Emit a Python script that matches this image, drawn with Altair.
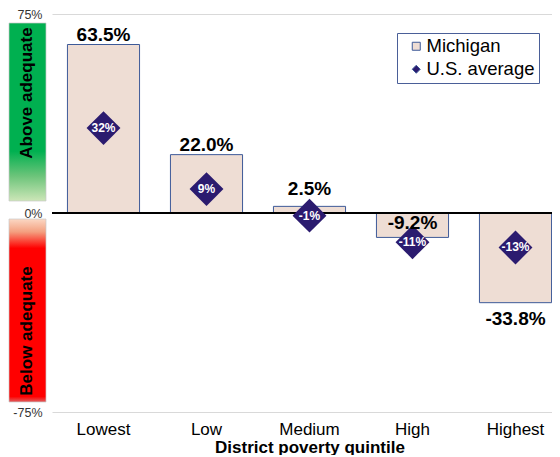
import altair as alt
import pandas as pd

quintiles = ["Lowest", "Low", "Medium", "High", "Highest"]
michigan = [63.5, 22.0, 2.5, -9.2, -33.8]
us_avg = [32, 9, -1, -11, -13]
y_ticks = [-75, 0, 75]
series_names = ["Michigan", "U.S. average"]
zone_labels = ["Above adequate", "Below adequate"]

df = pd.DataFrame({"quintile": quintiles, "mi": michigan, "us": us_avg})

FONT = "Liberation Sans"
BAR_FILL = "#EEDDD4"
BAR_STROKE = "#3D5A98"
DIAMOND = "#2B1B6F"

base = alt.Chart(df)

x_enc = alt.X(
    "quintile:N",
    sort=quintiles,
    scale=alt.Scale(paddingInner=0.3, paddingOuter=0.15, range=[0, 515]),
    axis=alt.Axis(
        title="District poverty quintile", labelAngle=0, domain=False, ticks=False,
        labelPadding=9, labelFontSize=17, labelColor="black", labelFont=FONT,
        titleFontSize=17, titleFontWeight="bold", titlePadding=2, titleFont=FONT,
        titleColor="black",
    ),
)
y_scale = alt.Scale(domain=[-75, 75], nice=False)
y_axis = alt.Axis(
    values=y_ticks, labelExpr="datum.value + '%'", grid=True, gridColor="#D9D9D9",
    domain=False, ticks=False, labelPadding=10, labelFontSize=12.5, labelColor="#333333",
    labelFont=FONT, title=None,
)

color_scale = alt.Scale(domain=series_names, range=[BAR_FILL, DIAMOND])
shape_scale = alt.Scale(domain=series_names, range=["square", "diamond"])
legend = alt.Legend(
    title=None, orient="none", legendX=345, legendY=19, fillColor="white",
    strokeColor="#4A5F98", padding=4, symbolOffset=6, labelFontSize=18.5,
    labelFont=FONT, labelColor="black", rowPadding=4, symbolSize=64,
    symbolStrokeColor=BAR_STROKE, symbolStrokeWidth=1, labelOffset=1,
)

bars = base.transform_calculate(series="'Michigan'").mark_bar(
    stroke=BAR_STROKE, strokeWidth=1
).encode(
    x=x_enc,
    y=alt.Y("mi:Q", scale=y_scale, axis=y_axis),
    color=alt.Color("series:N", scale=color_scale, legend=legend),
)

zero = alt.Chart(pd.DataFrame({"z": [0]})).mark_rule(color="black", strokeWidth=2).encode(
    y=alt.Y("z:Q", scale=y_scale, axis=y_axis)
)

pts = base.transform_calculate(series="'U.S. average'").mark_point(
    filled=True, size=1150, opacity=1
).encode(
    x=x_enc,
    y=alt.Y("us:Q", scale=y_scale, axis=y_axis),
    color=alt.Color("series:N", scale=color_scale, legend=legend),
    shape=alt.Shape("series:N", scale=shape_scale, legend=legend),
)

pt_labels = base.transform_calculate(
    lbl="(datum.us < 0 ? '-' : '') + format(abs(datum.us), 'd') + '%'"
).mark_text(
    color="white", fontSize=12, fontWeight="bold", font=FONT
).encode(
    x=x_enc, y=alt.Y("us:Q", scale=y_scale, axis=y_axis), text="lbl:N"
)

lab = base.transform_calculate(
    lbl="(datum.mi < 0 ? '-' : '') + format(abs(datum.mi), '.1f') + '%'",
    ly="datum.mi >= 0 ? max(datum.mi, datum.us + 6.4) : (datum.mi > -15 ? 0 : datum.mi)",
)
pos_labels = lab.transform_filter("datum.mi >= 0").mark_text(
    fontSize=19, fontWeight="bold", font=FONT, color="black", baseline="alphabetic", dy=-4
).encode(x=x_enc, y=alt.Y("ly:Q", scale=y_scale, axis=y_axis), text="lbl:N")
neg_deep = lab.transform_filter("datum.mi < -15").mark_text(
    fontSize=19, fontWeight="bold", font=FONT, color="black", baseline="top", dy=7
).encode(x=x_enc, y=alt.Y("ly:Q", scale=y_scale, axis=y_axis), text="lbl:N")
neg_shallow = lab.transform_filter("datum.mi < 0 && datum.mi >= -15").mark_text(
    fontSize=19, fontWeight="bold", font=FONT, color="black", baseline="top", dy=1
).encode(x=x_enc, y=alt.Y("ly:Q", scale=y_scale, axis=y_axis), text="lbl:N")

green = alt.Gradient(
    gradient="linear", x1=0, x2=0, y1=0, y2=1,
    stops=[
        alt.GradientStop(color="#00B050", offset=0),
        alt.GradientStop(color="#00B050", offset=0.72),
        alt.GradientStop(color="#6CC47A", offset=0.86),
        alt.GradientStop(color="#CDE6B8", offset=1),
    ],
)
red = alt.Gradient(
    gradient="linear", x1=0, x2=0, y1=0, y2=1,
    stops=[
        alt.GradientStop(color="#FBD8C4", offset=0),
        alt.GradientStop(color="#F4A080", offset=0.07),
        alt.GradientStop(color="#FF0000", offset=0.16),
        alt.GradientStop(color="#FF0000", offset=0.97),
        alt.GradientStop(color="#E06060", offset=1),
    ],
)
one = pd.DataFrame({"a": [0]})
green_rect = alt.Chart(one).mark_rect(fill=green, stroke="#C8C8C8", strokeWidth=0.7).encode(
    x=alt.value(-43), x2=alt.value(-6), y=alt.value(9), y2=alt.value(187)
)
red_rect = alt.Chart(one).mark_rect(fill=red, stroke="#C8C8C8", strokeWidth=0.7).encode(
    x=alt.value(-43), x2=alt.value(-6), y=alt.value(205), y2=alt.value(388)
)
above_txt = alt.Chart(one).mark_text(
    text=zone_labels[0], angle=270, fontSize=17, fontWeight="bold", font=FONT, color="black"
).encode(x=alt.value(-25), y=alt.value(79))
below_txt = alt.Chart(one).mark_text(
    text=zone_labels[1], angle=270, fontSize=17, fontWeight="bold", font=FONT, color="black"
).encode(x=alt.value(-25), y=alt.value(317))

chart = alt.layer(
    bars, zero, pts, pt_labels, pos_labels, neg_deep, neg_shallow,
    green_rect, red_rect, above_txt, below_txt,
).properties(
    width=500, height=398,
    autosize=alt.AutoSizeParams(type="none"),
    padding={"left": 44, "top": 6, "right": 0, "bottom": 43},
    background="white",
).configure_view(stroke=None)

chart.save("out.html", embed_options={"renderer": "svg", "actions": False})
